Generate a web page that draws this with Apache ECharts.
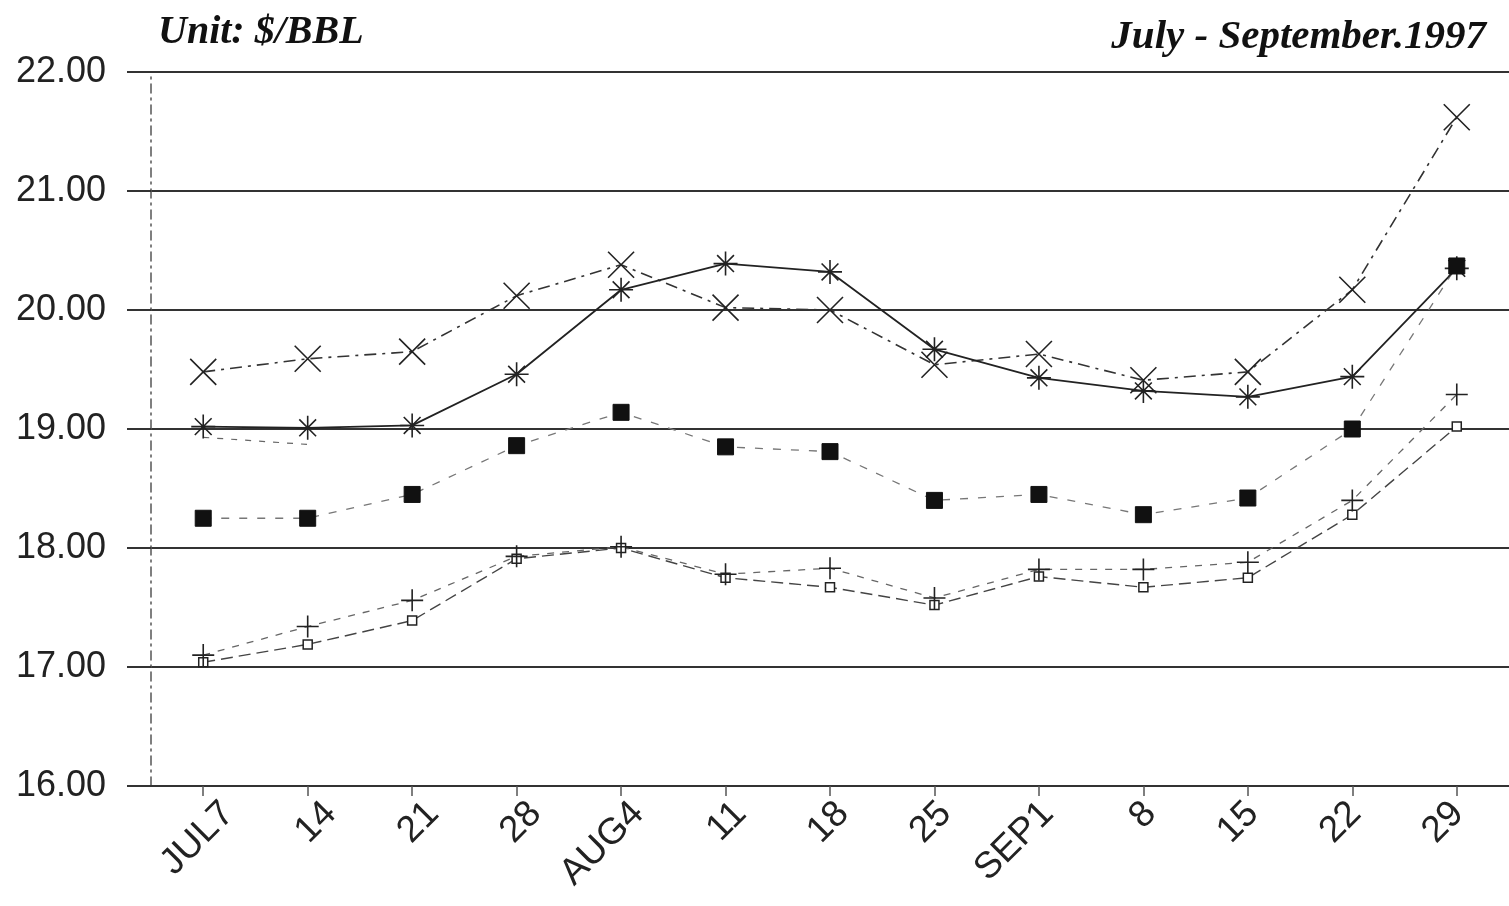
<!DOCTYPE html>
<html>
<head>
<meta charset="utf-8">
<script src="https://cdn.jsdelivr.net/npm/echarts@6/dist/echarts.min.js"></script>
<style>
html,body{margin:0;padding:0;background:#fff;}
#chart{width:1509px;height:906px;}
</style>
</head>
<body>
<div id="chart"></div>
<script>
// ---- data ----
const categories = ['JUL7','14','21','28','AUG4','11','18','25','SEP1','8','15','22','29'];
const yTickLabels = ['16.00','17.00','18.00','19.00','20.00','21.00','22.00'];
const seriesCross  = [19.48, 19.59, 19.65, 20.12, 20.38, 20.02, 20.00, 19.54, 19.63, 19.41, 19.48, 20.17, 21.62];
const seriesStar   = [19.02, 19.01, 19.03, 19.46, 20.17, 20.39, 20.32, 19.67, 19.43, 19.32, 19.27, 19.44, 20.35];
const seriesSquare = [18.25, 18.25, 18.45, 18.86, 19.14, 18.85, 18.81, 18.40, 18.45, 18.28, 18.42, 19.00, 20.37];
const seriesOpen   = [17.04, 17.19, 17.39, 17.91, 18.00, 17.75, 17.67, 17.52, 17.76, 17.67, 17.75, 18.28, 19.02];
const seriesPlus   = [17.10, 17.34, 17.56, 17.93, 18.01, 17.78, 17.83, 17.58, 17.82, 17.82, 17.88, 18.40, 19.29];
const seriesDash   = [18.93, 18.87, null, null, null, null, null, null, null, null, null, null, null];

const INK = '#222';
const strokeMarker = (w) => ({color: 'rgba(0,0,0,0)', borderColor: INK, borderWidth: w});

const chart = echarts.init(document.getElementById('chart'), null, {renderer: 'canvas'});
const option = {
  animation: false,
  backgroundColor: '#ffffff',
  title: [
    {text: 'Unit: $/BBL', left: 153, top: 8,
     textStyle: {fontFamily: 'Liberation Serif', fontStyle: 'italic', fontWeight: 'bold', fontSize: 40, color: '#111'}},
    {text: 'July - September.1997', right: 18, top: 12,
     textStyle: {fontFamily: 'Liberation Serif', fontStyle: 'italic', fontWeight: 'bold', fontSize: 41, color: '#111'}}
  ],
  grid: [
    {left: 151, right: 0, top: 72, bottom: 120},
    {left: 177, width: 1358, top: 72, bottom: 120}
  ],
  xAxis: [
    {type: 'category', gridIndex: 0, data: categories, boundaryGap: true,
     axisLine: {show: true, lineStyle: {color: '#333', width: 2}},
     axisTick: {show: true, alignWithLabel: true, length: 10, lineStyle: {color: '#555', width: 1.5}},
     axisLabel: {show: false}, splitLine: {show: false}},
    {type: 'category', gridIndex: 1, data: categories, boundaryGap: true,
     axisLine: {show: false}, axisTick: {show: false}, splitLine: {show: false},
     axisLabel: {interval: 0, rotate: 45, margin: 22, fontSize: 37, fontFamily: 'Liberation Sans', color: '#222'}}
  ],
  yAxis: [
    {type: 'value', gridIndex: 0, min: 16, max: 22, interval: 1,
     axisLine: {show: true, lineStyle: {color: '#555', width: 1.5, type: [9, 5, 2, 5]}},
     axisTick: {show: true, length: 24, lineStyle: {color: '#333', width: 2}},
     axisLabel: {margin: 45, fontSize: 36, fontFamily: 'Liberation Sans', color: '#222',
                 formatter: (v) => yTickLabels[Math.round(v - 16)]},
     splitLine: {show: true, lineStyle: {color: '#333', width: 2}}},
    {type: 'value', gridIndex: 1, min: 16, max: 22, show: false}
  ],
  series: [
    {name: 'cross', type: 'line', data: seriesCross,
     symbol: 'path://M0,0L10,10M10,0L0,10', symbolSize: 26,
     itemStyle: strokeMarker(1.6),
     lineStyle: {color: '#333', width: 1.6, type: [12, 6, 3, 6]}},
    {name: 'star', type: 'line', data: seriesStar,
     symbol: 'path://M0,5L10,5M5,0L5,10M1.5,1.5L8.5,8.5M8.5,1.5L1.5,8.5', symbolSize: 24,
     itemStyle: strokeMarker(1.6),
     lineStyle: {color: '#222', width: 1.8}},
    {name: 'square', type: 'line', data: seriesSquare,
     symbol: 'rect', symbolSize: 16,
     itemStyle: {color: '#111', borderColor: '#111', borderWidth: 1},
     lineStyle: {color: '#777', width: 1.3, type: [8, 10]}},
    {name: 'open', type: 'line', data: seriesOpen,
     symbol: 'rect', symbolSize: 9,
     itemStyle: {color: '#fff', borderColor: INK, borderWidth: 1.5},
     lineStyle: {color: '#444', width: 1.4, type: [12, 6]}},
    {name: 'plus', type: 'line', data: seriesPlus,
     symbol: 'path://M0,5L10,5M5,2L5,8', symbolSize: 22,
     itemStyle: strokeMarker(1.6),
     lineStyle: {color: '#666', width: 1.3, type: [7, 8]}},
    {name: 'dash', type: 'line', data: seriesDash,
     symbol: 'path://M0,5L10,5', symbolSize: 20,
     itemStyle: strokeMarker(1.8),
     lineStyle: {color: '#666', width: 1.2, type: [6, 8]}}
  ]
};
chart.setOption(option);
</script>
</body>
</html>
